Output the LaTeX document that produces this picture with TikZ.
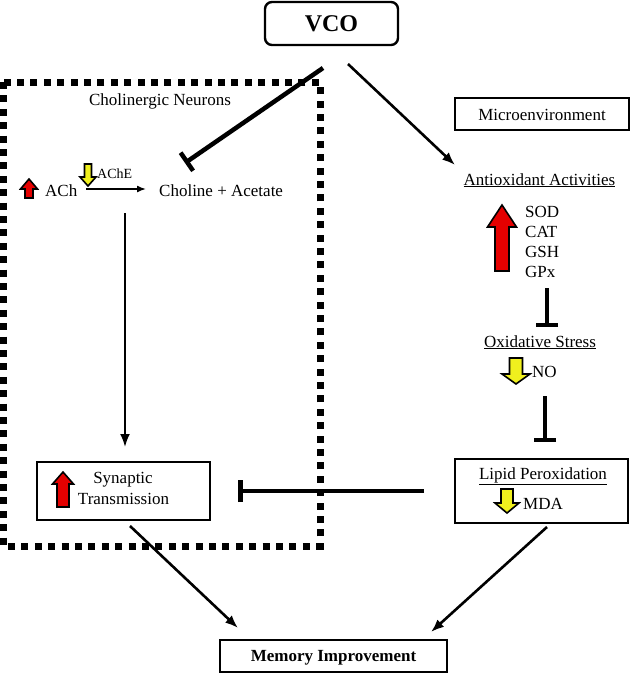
\documentclass[tikz,border=0pt]{standalone}
\usepackage{fontspec}
\setmainfont{Liberation Serif}
\usetikzlibrary{arrows.meta}
\definecolor{arrred}{RGB}{228,0,0}
\definecolor{arryel}{RGB}{240,240,30}
\newcommand{\blkup}[7]{\draw[blk,fill=#7] ({#1-#4},#3) -- ({#1-#4},{#2+#6}) -- ({#1-#5},{#2+#6}) -- (#1,#2) -- ({#1+#5},{#2+#6}) -- ({#1+#4},{#2+#6}) -- ({#1+#4},#3) -- cycle;}
\newcommand{\blkdown}[7]{\draw[blk,fill=#7] ({#1-#4},#2) -- ({#1-#4},{#3-#6}) -- ({#1-#5},{#3-#6}) -- (#1,#3) -- ({#1+#5},{#3-#6}) -- ({#1+#4},{#3-#6}) -- ({#1+#4},#2) -- cycle;}
\begin{document}
\begin{tikzpicture}[x=1pt,y=-1pt,
  txt/.style={font=\fontsize{17}{20}\selectfont, inner sep=0pt},
  smalltxt/.style={font=\fontsize{14}{16}\selectfont, inner sep=0pt},
  box/.style={draw, line width=2pt, inner sep=0pt},
  conn/.style={line width=2.6pt, -{Latex[length=13pt,width=10pt]}},
  thinconn/.style={line width=1.5pt, -{Latex[length=9pt,width=7pt]}},
  inhib/.style={line width=4.5pt, -{Bar[width=22pt]}},
  blk/.style={line width=1.6pt, line join=miter},
  dotbox/.style={line width=7pt, dash pattern=on 7pt off 6.4pt}]
\useasboundingbox (0,0) rectangle (633,673);

% boxes
\node[box, line width=2.4pt, rounded corners=7pt, minimum width=133pt, minimum height=43pt,
      font=\fontsize{24}{28}\selectfont\bfseries] (vco) at (331.5,23.5) {VCO};
\node[box, minimum width=174pt, minimum height=32pt, txt] (micro) at (542,114) {};
\node[txt, anchor=base] at (542,120) {Microenvironment};
\node[box, minimum width=173pt, minimum height=58pt] (syn) at (123.5,491) {};
\node[box, minimum width=173pt, minimum height=64pt] (lipid) at (541.5,491) {};
\node[box, minimum width=227pt, minimum height=32pt] (mem) at (333.5,656) {};
\node[txt, anchor=base, font=\fontsize{17}{20}\selectfont\bfseries] (memt) at (333.5,661) {Memory Improvement};

% dotted frame
\draw[dotbox] (3,82) rectangle (320,546);

% left texts
\node[txt, anchor=base] (chol) at (160,105) {Cholinergic Neurons};
\node[txt, anchor=base west] (ach) at (45,196) {ACh};
\node[smalltxt, anchor=base west] (ache) at (97,178) {AChE};
\node[txt, anchor=base west] (choline) at (159,196) {Choline + Acetate};
\node[txt, anchor=base] (synt1) at (123,483) {Synaptic};
\node[txt, anchor=base] (synt2) at (123.5,504) {Transmission};

% right texts
\node[txt, anchor=base] (anti) at (539.5,185) {\underline{Antioxidant Activities}};
\node[txt, anchor=base west] (sod) at (525,217) {SOD};
\node[txt, anchor=base west] (cat) at (525,237) {CAT};
\node[txt, anchor=base west] (gsh) at (525,257) {GSH};
\node[txt, anchor=base west] (gpx) at (525,277) {GPx};
\node[txt, anchor=base] (ox) at (540,347) {\underline{Oxidative Stress}};
\node[txt, anchor=base west] (no) at (532,377) {NO};
\node[txt, anchor=base] (lipt) at (543,479) {\underline{Lipid Peroxidation}};
\node[txt, anchor=base west] (mda) at (523,509) {MDA};

% block arrows
\blkup{29}{179}{198}{4}{8.5}{10}{arrred}
\blkdown{88}{164}{186}{3.5}{8}{9}{arryel}
\blkup{502}{205}{271}{7}{14.5}{22}{arrred}
\blkdown{516}{358}{384}{6.5}{14}{10}{arryel}
\blkup{63}{472}{507}{6}{10.5}{12}{arrred}
\blkdown{507}{489}{513}{6}{12}{10}{arryel}

% connector end coordinates
\coordinate (vcoA) at (323,68);
\coordinate (vcoB) at (348,64);
\coordinate (cholIn) at (185,163);
\coordinate (antiIn) at (455,165);
\coordinate (achOut) at (86,189);
\coordinate (cholineIn) at (146,189);
\coordinate (vStart) at (125,213);
\coordinate (vEnd) at (125,447);
\coordinate (i1s) at (547,288);
\coordinate (i1e) at (547,327);
\coordinate (i2s) at (545,396);
\coordinate (i2e) at (545,442);
\coordinate (hS) at (424,491);
\coordinate (hE) at (238,491);
\coordinate (synOut) at (130,526);
\coordinate (memInL) at (238,628);
\coordinate (lipOut) at (547,527);
\coordinate (memInR) at (431,632);

% connectors
\draw[inhib] (vcoA) -- (cholIn);
\draw[conn] (vcoB) -- (antiIn);
\draw[thinconn] (achOut) -- (cholineIn);
\draw[conn, line width=2pt] (vStart) -- (vEnd);
\draw[inhib] (i1s) -- (i1e);
\draw[inhib] (i2s) -- (i2e);
\draw[inhib] (hS) -- (hE);
\draw[conn] (synOut) -- (memInL);
\draw[conn] (lipOut) -- (memInR);
\end{tikzpicture}
\end{document}
